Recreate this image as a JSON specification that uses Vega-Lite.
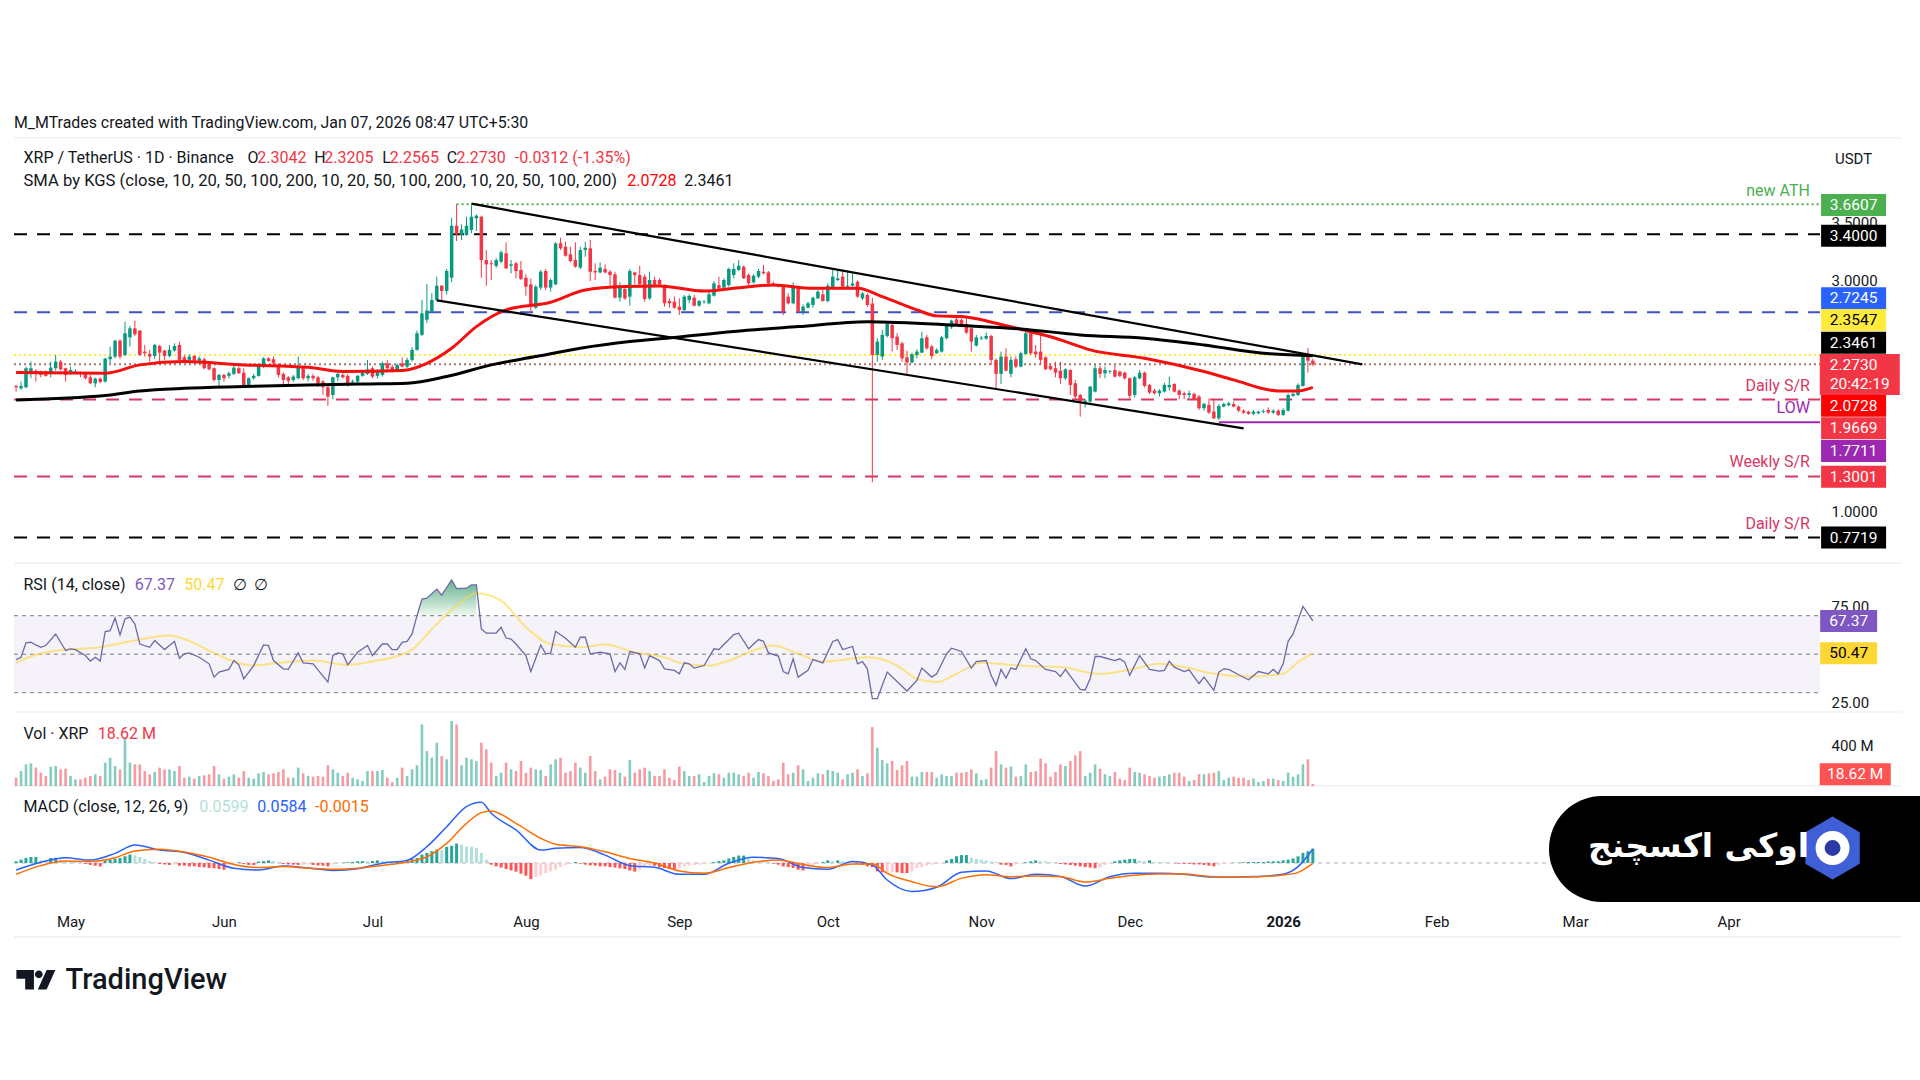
{"$schema":"https://vega.github.io/schema/vega-lite/v6.json","width":1920,"height":1080,"autosize":"none","padding":0,"background":"#ffffff","config":{"view":{"stroke":null}},
"title":{"text":"M_MTrades created with TradingView.com, Jan 07, 2026 08:47 UTC+5:30","anchor":"start","frame":"group","orient":"top","offset":-131,"dx":14,"fontSize":15.9,"font":"Roboto","fontWeight":"normal","color":"#131722"},
"datasets":{
"candles":[
{"t":"2025-04-20","o":2.085,"h":2.094,"l":2.036,"c":2.074,"k":"down","v":81,"m":0.007,"j":"gu"},
{"t":"2025-04-21","o":2.065,"h":2.123,"l":2.05,"c":2.085,"k":"up","v":146,"m":0.014,"j":"gu"},
{"t":"2025-04-22","o":2.074,"h":2.253,"l":2.065,"c":2.239,"k":"up","v":211,"m":0.021,"j":"gu"},
{"t":"2025-04-23","o":2.21,"h":2.296,"l":2.152,"c":2.239,"k":"up","v":221,"m":0.025,"j":"gu"},
{"t":"2025-04-24","o":2.218,"h":2.23,"l":2.123,"c":2.195,"k":"down","v":179,"m":0.025,"j":"gu"},
{"t":"2025-04-25","o":2.21,"h":2.218,"l":2.16,"c":2.181,"k":"down","v":130,"m":0.011,"j":"gd"},
{"t":"2025-04-26","o":2.21,"h":2.22,"l":2.165,"c":2.173,"k":"down","v":98,"m":0.008,"j":"gd"},
{"t":"2025-04-27","o":2.19,"h":2.296,"l":2.16,"c":2.244,"k":"up","v":188,"m":0.021,"j":"gu"},
{"t":"2025-04-28","o":2.239,"h":2.354,"l":2.218,"c":2.296,"k":"up","v":195,"m":0.022,"j":"gu"},
{"t":"2025-04-29","o":2.296,"h":2.311,"l":2.218,"c":2.23,"k":"down","v":162,"m":0.014,"j":"gd"},
{"t":"2025-04-30","o":2.239,"h":2.244,"l":2.123,"c":2.181,"k":"down","v":169,"m":0.008,"j":"gd"},
{"t":"2025-05-01","o":2.19,"h":2.253,"l":2.181,"c":2.224,"k":"up","v":98,"m":0.007,"j":"gd"},
{"t":"2025-05-02","o":2.2,"h":2.23,"l":2.19,"c":2.21,"k":"up","v":65,"m":0.004,"j":"gd"},
{"t":"2025-05-03","o":2.2,"h":2.21,"l":2.16,"c":2.19,"k":"down","v":65,"m":0.001,"j":"gd"},
{"t":"2025-05-04","o":2.19,"h":2.195,"l":2.14,"c":2.152,"k":"down","v":81,"m":-0.004,"j":"rd"},
{"t":"2025-05-05","o":2.16,"h":2.181,"l":2.1,"c":2.108,"k":"down","v":98,"m":-0.008,"j":"rd"},
{"t":"2025-05-06","o":2.108,"h":2.158,"l":2.074,"c":2.149,"k":"up","v":114,"m":-0.011,"j":"rd"},
{"t":"2025-05-07","o":2.149,"h":2.16,"l":2.108,"c":2.12,"k":"down","v":98,"m":-0.014,"j":"rd"},
{"t":"2025-05-08","o":2.123,"h":2.33,"l":2.115,"c":2.322,"k":"up","v":228,"m":0.011,"j":"gu"},
{"t":"2025-05-09","o":2.317,"h":2.427,"l":2.282,"c":2.34,"k":"up","v":276,"m":0.014,"j":"gu"},
{"t":"2025-05-10","o":2.34,"h":2.484,"l":2.325,"c":2.478,"k":"up","v":195,"m":0.017,"j":"gu"},
{"t":"2025-05-11","o":2.478,"h":2.49,"l":2.32,"c":2.34,"k":"down","v":162,"m":0.021,"j":"gu"},
{"t":"2025-05-12","o":2.354,"h":2.643,"l":2.345,"c":2.542,"k":"up","v":471,"m":0.028,"j":"gu"},
{"t":"2025-05-13","o":2.507,"h":2.606,"l":2.427,"c":2.585,"k":"up","v":228,"m":0.035,"j":"gu"},
{"t":"2025-05-14","o":2.585,"h":2.652,"l":2.519,"c":2.533,"k":"down","v":211,"m":0.031,"j":"gd"},
{"t":"2025-05-15","o":2.565,"h":2.571,"l":2.345,"c":2.354,"k":"down","v":211,"m":0.025,"j":"gd"},
{"t":"2025-05-16","o":2.383,"h":2.441,"l":2.34,"c":2.369,"k":"down","v":146,"m":0.017,"j":"gd"},
{"t":"2025-05-17","o":2.363,"h":2.398,"l":2.296,"c":2.34,"k":"down","v":114,"m":0.008,"j":"gd"},
{"t":"2025-05-18","o":2.345,"h":2.45,"l":2.317,"c":2.441,"k":"up","v":137,"m":0.004,"j":"gd"},
{"t":"2025-05-19","o":2.432,"h":2.441,"l":2.296,"c":2.374,"k":"down","v":179,"m":-0.004,"j":"rd"},
{"t":"2025-05-20","o":2.392,"h":2.398,"l":2.311,"c":2.345,"k":"down","v":162,"m":-0.006,"j":"rd"},
{"t":"2025-05-21","o":2.345,"h":2.441,"l":2.334,"c":2.398,"k":"up","v":162,"m":-0.008,"j":"rd"},
{"t":"2025-05-22","o":2.392,"h":2.455,"l":2.383,"c":2.432,"k":"up","v":146,"m":-0.006,"j":"ru"},
{"t":"2025-05-23","o":2.441,"h":2.47,"l":2.282,"c":2.311,"k":"down","v":195,"m":-0.011,"j":"rd"},
{"t":"2025-05-24","o":2.334,"h":2.354,"l":2.288,"c":2.296,"k":"down","v":81,"m":-0.011,"j":"rd"},
{"t":"2025-05-25","o":2.311,"h":2.36,"l":2.29,"c":2.34,"k":"up","v":91,"m":-0.014,"j":"rd"},
{"t":"2025-05-26","o":2.345,"h":2.354,"l":2.282,"c":2.305,"k":"down","v":72,"m":-0.014,"j":"rd"},
{"t":"2025-05-27","o":2.305,"h":2.34,"l":2.276,"c":2.325,"k":"up","v":98,"m":-0.017,"j":"rd"},
{"t":"2025-05-28","o":2.317,"h":2.33,"l":2.23,"c":2.239,"k":"down","v":104,"m":-0.018,"j":"rd"},
{"t":"2025-05-29","o":2.276,"h":2.29,"l":2.22,"c":2.23,"k":"down","v":114,"m":-0.021,"j":"rd"},
{"t":"2025-05-30","o":2.239,"h":2.247,"l":2.123,"c":2.137,"k":"down","v":195,"m":-0.022,"j":"rd"},
{"t":"2025-05-31","o":2.137,"h":2.19,"l":2.074,"c":2.181,"k":"up","v":114,"m":-0.025,"j":"rd"},
{"t":"2025-06-01","o":2.181,"h":2.19,"l":2.123,"c":2.152,"k":"down","v":72,"m":-0.028,"j":"rd"},
{"t":"2025-06-02","o":2.173,"h":2.21,"l":2.15,"c":2.195,"k":"up","v":91,"m":-0.007,"j":"ru"},
{"t":"2025-06-03","o":2.19,"h":2.267,"l":2.18,"c":2.244,"k":"up","v":114,"m":-0.004,"j":"ru"},
{"t":"2025-06-04","o":2.239,"h":2.253,"l":2.19,"c":2.195,"k":"down","v":81,"m":0.003,"j":"gu"},
{"t":"2025-06-05","o":2.2,"h":2.239,"l":2.074,"c":2.079,"k":"down","v":146,"m":-0.004,"j":"rd"},
{"t":"2025-06-06","o":2.085,"h":2.16,"l":2.074,"c":2.152,"k":"up","v":81,"m":-0.008,"j":"rd"},
{"t":"2025-06-07","o":2.152,"h":2.19,"l":2.14,"c":2.173,"k":"up","v":72,"m":-0.008,"j":"rd"},
{"t":"2025-06-08","o":2.172,"h":2.282,"l":2.166,"c":2.267,"k":"up","v":124,"m":0.006,"j":"gu"},
{"t":"2025-06-09","o":2.253,"h":2.334,"l":2.239,"c":2.325,"k":"up","v":137,"m":0.008,"j":"gu"},
{"t":"2025-06-10","o":2.325,"h":2.334,"l":2.296,"c":2.302,"k":"down","v":114,"m":0.011,"j":"gu"},
{"t":"2025-06-11","o":2.317,"h":2.34,"l":2.267,"c":2.282,"k":"down","v":124,"m":0.008,"j":"gd"},
{"t":"2025-06-12","o":2.253,"h":2.282,"l":2.16,"c":2.181,"k":"down","v":137,"m":0.004,"j":"gd"},
{"t":"2025-06-13","o":2.19,"h":2.2,"l":2.094,"c":2.137,"k":"down","v":163,"m":-0.004,"j":"rd"},
{"t":"2025-06-14","o":2.16,"h":2.17,"l":2.094,"c":2.13,"k":"down","v":81,"m":-0.006,"j":"rd"},
{"t":"2025-06-15","o":2.137,"h":2.18,"l":2.12,"c":2.166,"k":"up","v":81,"m":-0.007,"j":"rd"},
{"t":"2025-06-16","o":2.152,"h":2.34,"l":2.143,"c":2.253,"k":"up","v":179,"m":-0.008,"j":"rd"},
{"t":"2025-06-17","o":2.239,"h":2.253,"l":2.137,"c":2.152,"k":"down","v":124,"m":-0.007,"j":"ru"},
{"t":"2025-06-18","o":2.152,"h":2.19,"l":2.123,"c":2.173,"k":"up","v":98,"m":-0.006,"j":"ru"},
{"t":"2025-06-19","o":2.173,"h":2.19,"l":2.13,"c":2.152,"k":"down","v":91,"m":-0.008,"j":"rd"},
{"t":"2025-06-20","o":2.16,"h":2.173,"l":2.074,"c":2.108,"k":"down","v":98,"m":-0.01,"j":"rd"},
{"t":"2025-06-21","o":2.123,"h":2.137,"l":2.007,"c":2.074,"k":"down","v":91,"m":-0.011,"j":"rd"},
{"t":"2025-06-22","o":2.074,"h":2.094,"l":1.912,"c":1.993,"k":"down","v":202,"m":-0.014,"j":"rd"},
{"t":"2025-06-23","o":2.007,"h":2.166,"l":1.97,"c":2.16,"k":"up","v":163,"m":-0.006,"j":"ru"},
{"t":"2025-06-24","o":2.16,"h":2.21,"l":2.123,"c":2.19,"k":"up","v":130,"m":-0.003,"j":"ru"},
{"t":"2025-06-25","o":2.181,"h":2.195,"l":2.15,"c":2.16,"k":"down","v":98,"m":0.001,"j":"gu"},
{"t":"2025-06-26","o":2.173,"h":2.19,"l":2.079,"c":2.108,"k":"down","v":130,"m":0.003,"j":"gu"},
{"t":"2025-06-27","o":2.118,"h":2.14,"l":2.1,"c":2.125,"k":"up","v":81,"m":0.004,"j":"gu"},
{"t":"2025-06-28","o":2.123,"h":2.18,"l":2.11,"c":2.173,"k":"up","v":65,"m":0.007,"j":"gu"},
{"t":"2025-06-29","o":2.173,"h":2.21,"l":2.165,"c":2.2,"k":"up","v":49,"m":0.008,"j":"gu"},
{"t":"2025-06-30","o":2.19,"h":2.311,"l":2.181,"c":2.23,"k":"up","v":146,"m":0.007,"j":"gd"},
{"t":"2025-07-01","o":2.239,"h":2.253,"l":2.152,"c":2.166,"k":"down","v":146,"m":0.008,"j":"gu"},
{"t":"2025-07-02","o":2.173,"h":2.23,"l":2.15,"c":2.218,"k":"up","v":146,"m":0.011,"j":"gu"},
{"t":"2025-07-03","o":2.181,"h":2.296,"l":2.166,"c":2.282,"k":"up","v":156,"m":0.008,"j":"gd"},
{"t":"2025-07-04","o":2.282,"h":2.31,"l":2.22,"c":2.24,"k":"down","v":81,"m":0.008,"j":"gd"},
{"t":"2025-07-05","o":2.25,"h":2.27,"l":2.2,"c":2.218,"k":"down","v":39,"m":0.006,"j":"gd"},
{"t":"2025-07-06","o":2.218,"h":2.28,"l":2.21,"c":2.267,"k":"up","v":81,"m":0.007,"j":"gu"},
{"t":"2025-07-07","o":2.282,"h":2.334,"l":2.247,"c":2.253,"k":"down","v":179,"m":0.008,"j":"gu"},
{"t":"2025-07-08","o":2.253,"h":2.33,"l":2.24,"c":2.311,"k":"up","v":98,"m":0.014,"j":"gu"},
{"t":"2025-07-09","o":2.311,"h":2.421,"l":2.296,"c":2.398,"k":"up","v":163,"m":0.017,"j":"gu"},
{"t":"2025-07-10","o":2.398,"h":2.565,"l":2.392,"c":2.542,"k":"up","v":202,"m":0.021,"j":"gu"},
{"t":"2025-07-11","o":2.528,"h":2.831,"l":2.519,"c":2.715,"k":"up","v":601,"m":0.035,"j":"gu"},
{"t":"2025-07-12","o":2.66,"h":2.97,"l":2.63,"c":2.74,"k":"up","v":341,"m":0.042,"j":"gu"},
{"t":"2025-07-13","o":2.73,"h":2.89,"l":2.72,"c":2.83,"k":"up","v":276,"m":0.049,"j":"gu"},
{"t":"2025-07-14","o":2.83,"h":3.033,"l":2.822,"c":2.955,"k":"up","v":422,"m":0.056,"j":"gu"},
{"t":"2025-07-15","o":2.955,"h":2.96,"l":2.822,"c":2.909,"k":"down","v":292,"m":0.053,"j":"gd"},
{"t":"2025-07-16","o":2.909,"h":3.1,"l":2.88,"c":3.082,"k":"up","v":260,"m":0.067,"j":"gu"},
{"t":"2025-07-17","o":3.024,"h":3.544,"l":2.984,"c":3.475,"k":"up","v":634,"m":0.072,"j":"gu"},
{"t":"2025-07-18","o":3.475,"h":3.6607,"l":3.342,"c":3.4,"k":"down","v":601,"m":0.081,"j":"gu"},
{"t":"2025-07-19","o":3.394,"h":3.487,"l":3.351,"c":3.443,"k":"up","v":202,"m":0.076,"j":"gd"},
{"t":"2025-07-20","o":3.394,"h":3.553,"l":3.388,"c":3.475,"k":"up","v":276,"m":0.069,"j":"gd"},
{"t":"2025-07-21","o":3.438,"h":3.654,"l":3.409,"c":3.553,"k":"up","v":260,"m":0.067,"j":"gd"},
{"t":"2025-07-22","o":3.539,"h":3.573,"l":3.429,"c":3.562,"k":"up","v":244,"m":0.063,"j":"gd"},
{"t":"2025-07-23","o":3.553,"h":3.562,"l":3.024,"c":3.177,"k":"down","v":422,"m":0.042,"j":"gd"},
{"t":"2025-07-24","o":3.177,"h":3.264,"l":2.955,"c":3.14,"k":"down","v":358,"m":0.014,"j":"gd"},
{"t":"2025-07-25","o":3.149,"h":3.177,"l":3.004,"c":3.14,"k":"down","v":228,"m":-0.007,"j":"rd"},
{"t":"2025-07-26","o":3.125,"h":3.192,"l":3.111,"c":3.177,"k":"up","v":98,"m":-0.014,"j":"rd"},
{"t":"2025-07-27","o":3.163,"h":3.26,"l":3.15,"c":3.244,"k":"up","v":130,"m":-0.019,"j":"rd"},
{"t":"2025-07-28","o":3.235,"h":3.331,"l":3.1,"c":3.105,"k":"down","v":228,"m":-0.025,"j":"rd"},
{"t":"2025-07-29","o":3.128,"h":3.177,"l":3.062,"c":3.14,"k":"up","v":163,"m":-0.031,"j":"rd"},
{"t":"2025-07-30","o":3.149,"h":3.163,"l":3.018,"c":3.082,"k":"down","v":146,"m":-0.036,"j":"rd"},
{"t":"2025-07-31","o":3.091,"h":3.169,"l":3.004,"c":3.013,"k":"down","v":244,"m":-0.044,"j":"rd"},
{"t":"2025-08-01","o":3.024,"h":3.053,"l":2.868,"c":2.946,"k":"down","v":130,"m":-0.053,"j":"rd"},
{"t":"2025-08-02","o":2.966,"h":3.018,"l":2.724,"c":2.773,"k":"down","v":179,"m":-0.067,"j":"rd"},
{"t":"2025-08-03","o":2.764,"h":2.96,"l":2.753,"c":2.946,"k":"up","v":163,"m":-0.058,"j":"ru"},
{"t":"2025-08-04","o":2.938,"h":3.091,"l":2.917,"c":3.076,"k":"up","v":156,"m":-0.053,"j":"ru"},
{"t":"2025-08-05","o":3.082,"h":3.1,"l":2.917,"c":2.938,"k":"down","v":98,"m":-0.042,"j":"ru"},
{"t":"2025-08-06","o":2.938,"h":3.018,"l":2.903,"c":3.004,"k":"up","v":211,"m":-0.035,"j":"ru"},
{"t":"2025-08-07","o":2.966,"h":3.331,"l":2.96,"c":3.322,"k":"up","v":260,"m":-0.028,"j":"ru"},
{"t":"2025-08-08","o":3.322,"h":3.371,"l":3.264,"c":3.279,"k":"down","v":276,"m":-0.017,"j":"ru"},
{"t":"2025-08-09","o":3.293,"h":3.336,"l":3.206,"c":3.215,"k":"down","v":130,"m":-0.008,"j":"ru"},
{"t":"2025-08-10","o":3.227,"h":3.293,"l":3.157,"c":3.169,"k":"down","v":146,"m":-0.004,"j":"ru"},
{"t":"2025-08-11","o":3.177,"h":3.331,"l":3.111,"c":3.12,"k":"down","v":228,"m":0.004,"j":"gu"},
{"t":"2025-08-12","o":3.111,"h":3.293,"l":3.1,"c":3.264,"k":"up","v":179,"m":-0.003,"j":"rd"},
{"t":"2025-08-13","o":3.264,"h":3.336,"l":3.206,"c":3.284,"k":"up","v":130,"m":-0.007,"j":"rd"},
{"t":"2025-08-14","o":3.279,"h":3.351,"l":2.995,"c":3.076,"k":"down","v":293,"m":-0.01,"j":"rd"},
{"t":"2025-08-15","o":3.082,"h":3.149,"l":3.004,"c":3.07,"k":"down","v":146,"m":-0.011,"j":"rd"},
{"t":"2025-08-16","o":3.07,"h":3.157,"l":3.062,"c":3.111,"k":"up","v":65,"m":-0.014,"j":"rd"},
{"t":"2025-08-17","o":3.1,"h":3.14,"l":3.062,"c":3.07,"k":"down","v":91,"m":-0.014,"j":"rd"},
{"t":"2025-08-18","o":3.076,"h":3.091,"l":2.955,"c":3.047,"k":"down","v":163,"m":-0.017,"j":"rd"},
{"t":"2025-08-19","o":3.053,"h":3.076,"l":2.845,"c":2.851,"k":"down","v":156,"m":-0.019,"j":"rd"},
{"t":"2025-08-20","o":2.851,"h":2.984,"l":2.816,"c":2.955,"k":"up","v":130,"m":-0.022,"j":"rd"},
{"t":"2025-08-21","o":2.926,"h":2.946,"l":2.831,"c":2.845,"k":"down","v":91,"m":-0.025,"j":"rd"},
{"t":"2025-08-22","o":2.86,"h":3.1,"l":2.782,"c":3.082,"k":"up","v":254,"m":-0.031,"j":"rd"},
{"t":"2025-08-23","o":3.07,"h":3.076,"l":2.966,"c":3.047,"k":"down","v":130,"m":-0.036,"j":"rd"},
{"t":"2025-08-24","o":3.047,"h":3.128,"l":2.96,"c":2.966,"k":"down","v":163,"m":-0.028,"j":"ru"},
{"t":"2025-08-25","o":3.033,"h":3.053,"l":2.816,"c":2.839,"k":"down","v":179,"m":-0.014,"j":"ru"},
{"t":"2025-08-26","o":2.845,"h":3.076,"l":2.831,"c":3.004,"k":"up","v":146,"m":-0.011,"j":"ru"},
{"t":"2025-08-27","o":3.004,"h":3.033,"l":2.955,"c":2.96,"k":"down","v":98,"m":-0.011,"j":"rd"},
{"t":"2025-08-28","o":3.004,"h":3.018,"l":2.96,"c":2.966,"k":"down","v":98,"m":-0.017,"j":"rd"},
{"t":"2025-08-29","o":2.955,"h":2.966,"l":2.773,"c":2.802,"k":"down","v":163,"m":-0.021,"j":"rd"},
{"t":"2025-08-30","o":2.822,"h":2.845,"l":2.764,"c":2.802,"k":"down","v":81,"m":-0.025,"j":"rd"},
{"t":"2025-08-31","o":2.816,"h":2.86,"l":2.753,"c":2.764,"k":"down","v":58,"m":-0.025,"j":"rd"},
{"t":"2025-09-01","o":2.773,"h":2.845,"l":2.701,"c":2.744,"k":"down","v":189,"m":-0.021,"j":"ru"},
{"t":"2025-09-02","o":2.744,"h":2.874,"l":2.735,"c":2.86,"k":"up","v":146,"m":-0.014,"j":"ru"},
{"t":"2025-09-03","o":2.83,"h":2.88,"l":2.802,"c":2.866,"k":"up","v":98,"m":-0.011,"j":"ru"},
{"t":"2025-09-04","o":2.851,"h":2.874,"l":2.773,"c":2.782,"k":"down","v":98,"m":-0.008,"j":"ru"},
{"t":"2025-09-05","o":2.782,"h":2.831,"l":2.773,"c":2.822,"k":"up","v":114,"m":-0.007,"j":"ru"},
{"t":"2025-09-06","o":2.81,"h":2.83,"l":2.8,"c":2.816,"k":"up","v":39,"m":-0.004,"j":"ru"},
{"t":"2025-09-07","o":2.802,"h":2.917,"l":2.793,"c":2.88,"k":"up","v":98,"m":-0.003,"j":"ru"},
{"t":"2025-09-08","o":2.868,"h":2.995,"l":2.86,"c":2.975,"k":"up","v":124,"m":0.004,"j":"gu"},
{"t":"2025-09-09","o":2.96,"h":3.033,"l":2.926,"c":2.93,"k":"down","v":114,"m":0.008,"j":"gu"},
{"t":"2025-09-10","o":2.938,"h":3.018,"l":2.932,"c":3.004,"k":"up","v":81,"m":0.011,"j":"gu"},
{"t":"2025-09-11","o":2.96,"h":3.111,"l":2.946,"c":3.1,"k":"up","v":130,"m":0.019,"j":"gu"},
{"t":"2025-09-12","o":3.047,"h":3.149,"l":3.018,"c":3.1,"k":"up","v":130,"m":0.025,"j":"gu"},
{"t":"2025-09-13","o":3.091,"h":3.177,"l":3.082,"c":3.128,"k":"up","v":114,"m":0.031,"j":"gu"},
{"t":"2025-09-14","o":3.12,"h":3.128,"l":3.013,"c":3.018,"k":"down","v":98,"m":0.031,"j":"gu"},
{"t":"2025-09-15","o":3.047,"h":3.062,"l":2.955,"c":2.975,"k":"down","v":130,"m":0.017,"j":"gd"},
{"t":"2025-09-16","o":2.984,"h":3.053,"l":2.975,"c":3.041,"k":"up","v":81,"m":0.011,"j":"gd"},
{"t":"2025-09-17","o":3.033,"h":3.1,"l":3.018,"c":3.082,"k":"up","v":137,"m":0.007,"j":"gd"},
{"t":"2025-09-18","o":3.076,"h":3.134,"l":3.053,"c":3.062,"k":"down","v":124,"m":0.004,"j":"gd"},
{"t":"2025-09-19","o":3.07,"h":3.082,"l":2.966,"c":2.975,"k":"down","v":98,"m":0.001,"j":"gd"},
{"t":"2025-09-20","o":2.975,"h":2.99,"l":2.95,"c":2.96,"k":"down","v":49,"m":-0.003,"j":"rd"},
{"t":"2025-09-21","o":2.96,"h":2.97,"l":2.94,"c":2.95,"k":"down","v":65,"m":-0.007,"j":"rd"},
{"t":"2025-09-22","o":2.955,"h":2.966,"l":2.7,"c":2.729,"k":"down","v":228,"m":-0.014,"j":"rd"},
{"t":"2025-09-23","o":2.86,"h":2.888,"l":2.793,"c":2.802,"k":"down","v":114,"m":-0.017,"j":"rd"},
{"t":"2025-09-24","o":2.802,"h":2.984,"l":2.793,"c":2.946,"k":"up","v":130,"m":-0.021,"j":"rd"},
{"t":"2025-09-25","o":2.932,"h":2.946,"l":2.724,"c":2.729,"k":"down","v":202,"m":-0.028,"j":"rd"},
{"t":"2025-09-26","o":2.729,"h":2.793,"l":2.7,"c":2.773,"k":"up","v":163,"m":-0.031,"j":"rd"},
{"t":"2025-09-27","o":2.764,"h":2.816,"l":2.759,"c":2.802,"k":"up","v":49,"m":-0.019,"j":"ru"},
{"t":"2025-09-28","o":2.787,"h":2.86,"l":2.764,"c":2.851,"k":"up","v":81,"m":-0.011,"j":"ru"},
{"t":"2025-09-29","o":2.845,"h":2.917,"l":2.839,"c":2.903,"k":"up","v":124,"m":-0.004,"j":"ru"},
{"t":"2025-09-30","o":2.88,"h":2.932,"l":2.816,"c":2.822,"k":"down","v":114,"m":0.004,"j":"gu"},
{"t":"2025-10-01","o":2.822,"h":2.975,"l":2.81,"c":2.955,"k":"up","v":156,"m":0.011,"j":"gu"},
{"t":"2025-10-02","o":2.932,"h":3.091,"l":2.926,"c":3.033,"k":"up","v":146,"m":0.008,"j":"gd"},
{"t":"2025-10-03","o":3.004,"h":3.091,"l":2.995,"c":3.018,"k":"up","v":130,"m":0.011,"j":"gu"},
{"t":"2025-10-04","o":3.033,"h":3.076,"l":2.938,"c":2.946,"k":"down","v":65,"m":0.007,"j":"gd"},
{"t":"2025-10-05","o":2.946,"h":3.076,"l":2.94,"c":2.955,"k":"up","v":114,"m":0.004,"j":"gd"},
{"t":"2025-10-06","o":2.955,"h":3.062,"l":2.946,"c":2.975,"k":"up","v":130,"m":0.003,"j":"gd"},
{"t":"2025-10-07","o":2.99,"h":3.0,"l":2.85,"c":2.86,"k":"down","v":163,"m":-0.003,"j":"rd"},
{"t":"2025-10-08","o":2.845,"h":2.9,"l":2.83,"c":2.888,"k":"up","v":98,"m":-0.008,"j":"rd"},
{"t":"2025-10-09","o":2.874,"h":2.89,"l":2.77,"c":2.787,"k":"down","v":124,"m":-0.014,"j":"rd"},
{"t":"2025-10-10","o":2.8,"h":2.85,"l":1.25,"c":2.354,"k":"down","v":575,"m":-0.017,"j":"rd"},
{"t":"2025-10-11","o":2.354,"h":2.499,"l":2.296,"c":2.47,"k":"up","v":374,"m":-0.035,"j":"rd"},
{"t":"2025-10-12","o":2.34,"h":2.571,"l":2.311,"c":2.528,"k":"up","v":254,"m":-0.039,"j":"rd"},
{"t":"2025-10-13","o":2.519,"h":2.634,"l":2.507,"c":2.623,"k":"up","v":221,"m":-0.039,"j":"ru"},
{"t":"2025-10-14","o":2.614,"h":2.629,"l":2.383,"c":2.499,"k":"down","v":244,"m":-0.039,"j":"ru"},
{"t":"2025-10-15","o":2.513,"h":2.542,"l":2.398,"c":2.441,"k":"down","v":156,"m":-0.039,"j":"rd"},
{"t":"2025-10-16","o":2.455,"h":2.47,"l":2.296,"c":2.325,"k":"down","v":202,"m":-0.042,"j":"rd"},
{"t":"2025-10-17","o":2.334,"h":2.392,"l":2.19,"c":2.288,"k":"down","v":244,"m":-0.042,"j":"rd"},
{"t":"2025-10-18","o":2.288,"h":2.374,"l":2.282,"c":2.36,"k":"up","v":91,"m":-0.035,"j":"ru"},
{"t":"2025-10-19","o":2.354,"h":2.403,"l":2.325,"c":2.383,"k":"up","v":91,"m":-0.021,"j":"ru"},
{"t":"2025-10-20","o":2.374,"h":2.556,"l":2.369,"c":2.499,"k":"up","v":137,"m":-0.017,"j":"ru"},
{"t":"2025-10-21","o":2.507,"h":2.528,"l":2.398,"c":2.412,"k":"down","v":137,"m":-0.011,"j":"ru"},
{"t":"2025-10-22","o":2.427,"h":2.441,"l":2.317,"c":2.345,"k":"down","v":137,"m":-0.007,"j":"ru"},
{"t":"2025-10-23","o":2.369,"h":2.412,"l":2.363,"c":2.398,"k":"up","v":81,"m":-0.004,"j":"ru"},
{"t":"2025-10-24","o":2.383,"h":2.519,"l":2.374,"c":2.507,"k":"up","v":114,"m":-0.003,"j":"ru"},
{"t":"2025-10-25","o":2.499,"h":2.623,"l":2.49,"c":2.614,"k":"up","v":98,"m":0.011,"j":"gu"},
{"t":"2025-10-26","o":2.594,"h":2.66,"l":2.58,"c":2.652,"k":"up","v":98,"m":0.017,"j":"gu"},
{"t":"2025-10-27","o":2.663,"h":2.701,"l":2.606,"c":2.623,"k":"down","v":130,"m":0.028,"j":"gu"},
{"t":"2025-10-28","o":2.658,"h":2.672,"l":2.594,"c":2.623,"k":"down","v":130,"m":0.033,"j":"gu"},
{"t":"2025-10-29","o":2.623,"h":2.672,"l":2.536,"c":2.548,"k":"down","v":137,"m":0.033,"j":"gu"},
{"t":"2025-10-30","o":2.585,"h":2.594,"l":2.383,"c":2.47,"k":"down","v":163,"m":0.022,"j":"gd"},
{"t":"2025-10-31","o":2.435,"h":2.528,"l":2.427,"c":2.507,"k":"up","v":124,"m":0.017,"j":"gd"},
{"t":"2025-11-01","o":2.496,"h":2.519,"l":2.484,"c":2.504,"k":"up","v":59,"m":0.014,"j":"gd"},
{"t":"2025-11-02","o":2.496,"h":2.548,"l":2.484,"c":2.519,"k":"up","v":65,"m":0.011,"j":"gd"},
{"t":"2025-11-03","o":2.519,"h":2.528,"l":2.267,"c":2.311,"k":"down","v":179,"m":0.007,"j":"gd"},
{"t":"2025-11-04","o":2.311,"h":2.325,"l":2.065,"c":2.19,"k":"down","v":341,"m":0.004,"j":"gd"},
{"t":"2025-11-05","o":2.19,"h":2.383,"l":2.103,"c":2.34,"k":"up","v":211,"m":-0.007,"j":"rd"},
{"t":"2025-11-06","o":2.34,"h":2.412,"l":2.21,"c":2.218,"k":"down","v":179,"m":-0.008,"j":"rd"},
{"t":"2025-11-07","o":2.19,"h":2.34,"l":2.16,"c":2.311,"k":"up","v":189,"m":-0.014,"j":"rd"},
{"t":"2025-11-08","o":2.317,"h":2.34,"l":2.239,"c":2.253,"k":"down","v":91,"m":-0.006,"j":"ru"},
{"t":"2025-11-09","o":2.253,"h":2.383,"l":2.247,"c":2.369,"k":"up","v":98,"m":-0.003,"j":"ru"},
{"t":"2025-11-10","o":2.363,"h":2.556,"l":2.354,"c":2.542,"k":"up","v":211,"m":0.003,"j":"gu"},
{"t":"2025-11-11","o":2.542,"h":2.571,"l":2.354,"c":2.369,"k":"down","v":137,"m":0.007,"j":"gu"},
{"t":"2025-11-12","o":2.383,"h":2.44,"l":2.33,"c":2.36,"k":"down","v":146,"m":0.011,"j":"gu"},
{"t":"2025-11-13","o":2.383,"h":2.528,"l":2.267,"c":2.311,"k":"down","v":267,"m":0.008,"j":"gd"},
{"t":"2025-11-14","o":2.334,"h":2.34,"l":2.224,"c":2.23,"k":"down","v":221,"m":0.007,"j":"gd"},
{"t":"2025-11-15","o":2.258,"h":2.27,"l":2.22,"c":2.23,"k":"down","v":91,"m":0.003,"j":"gd"},
{"t":"2025-11-16","o":2.239,"h":2.296,"l":2.16,"c":2.201,"k":"down","v":137,"m":0.001,"j":"gd"},
{"t":"2025-11-17","o":2.218,"h":2.296,"l":2.103,"c":2.152,"k":"down","v":211,"m":-0.004,"j":"rd"},
{"t":"2025-11-18","o":2.152,"h":2.239,"l":2.137,"c":2.23,"k":"up","v":195,"m":-0.006,"j":"rd"},
{"t":"2025-11-19","o":2.224,"h":2.23,"l":2.007,"c":2.094,"k":"down","v":244,"m":-0.008,"j":"rd"},
{"t":"2025-11-20","o":2.108,"h":2.137,"l":1.97,"c":1.993,"k":"down","v":299,"m":-0.011,"j":"rd"},
{"t":"2025-11-21","o":2.007,"h":2.016,"l":1.819,"c":1.95,"k":"down","v":341,"m":-0.014,"j":"rd"},
{"t":"2025-11-22","o":1.935,"h":1.97,"l":1.9,"c":1.958,"k":"up","v":98,"m":-0.017,"j":"rd"},
{"t":"2025-11-23","o":1.95,"h":2.085,"l":1.941,"c":2.079,"k":"up","v":130,"m":-0.019,"j":"rd"},
{"t":"2025-11-24","o":2.036,"h":2.267,"l":2.028,"c":2.239,"k":"up","v":211,"m":-0.022,"j":"rd"},
{"t":"2025-11-25","o":2.239,"h":2.259,"l":2.152,"c":2.19,"k":"down","v":169,"m":-0.019,"j":"ru"},
{"t":"2025-11-26","o":2.195,"h":2.253,"l":2.152,"c":2.224,"k":"up","v":114,"m":-0.008,"j":"ru"},
{"t":"2025-11-27","o":2.21,"h":2.224,"l":2.19,"c":2.216,"k":"up","v":98,"m":-0.004,"j":"ru"},
{"t":"2025-11-28","o":2.224,"h":2.267,"l":2.16,"c":2.166,"k":"down","v":137,"m":0.007,"j":"gu"},
{"t":"2025-11-29","o":2.21,"h":2.218,"l":2.16,"c":2.173,"k":"down","v":72,"m":0.011,"j":"gu"},
{"t":"2025-11-30","o":2.2,"h":2.21,"l":2.14,"c":2.152,"k":"down","v":59,"m":0.014,"j":"gu"},
{"t":"2025-12-01","o":2.152,"h":2.16,"l":1.978,"c":2.0,"k":"down","v":179,"m":0.017,"j":"gu"},
{"t":"2025-12-02","o":2.007,"h":2.173,"l":1.987,"c":2.16,"k":"up","v":137,"m":0.017,"j":"gu"},
{"t":"2025-12-03","o":2.152,"h":2.224,"l":2.143,"c":2.2,"k":"up","v":130,"m":0.011,"j":"gd"},
{"t":"2025-12-04","o":2.2,"h":2.21,"l":2.074,"c":2.085,"k":"down","v":114,"m":0.008,"j":"gd"},
{"t":"2025-12-05","o":2.094,"h":2.103,"l":2.016,"c":2.028,"k":"down","v":98,"m":0.011,"j":"gu"},
{"t":"2025-12-06","o":2.045,"h":2.06,"l":2.01,"c":2.022,"k":"down","v":81,"m":0.004,"j":"gd"},
{"t":"2025-12-07","o":2.022,"h":2.056,"l":1.993,"c":2.045,"k":"up","v":91,"m":0.003,"j":"gd"},
{"t":"2025-12-08","o":2.036,"h":2.114,"l":2.028,"c":2.094,"k":"up","v":98,"m":0.003,"j":"gd"},
{"t":"2025-12-09","o":2.074,"h":2.166,"l":2.045,"c":2.094,"k":"up","v":114,"m":0.001,"j":"gd"},
{"t":"2025-12-10","o":2.103,"h":2.108,"l":2.028,"c":2.036,"k":"down","v":130,"m":-0.001,"j":"rd"},
{"t":"2025-12-11","o":2.045,"h":2.056,"l":1.97,"c":2.007,"k":"down","v":130,"m":-0.003,"j":"rd"},
{"t":"2025-12-12","o":2.022,"h":2.036,"l":1.97,"c":2.007,"k":"down","v":91,"m":-0.003,"j":"rd"},
{"t":"2025-12-13","o":2.007,"h":2.045,"l":1.978,"c":2.022,"k":"up","v":49,"m":-0.004,"j":"rd"},
{"t":"2025-12-14","o":2.016,"h":2.028,"l":1.964,"c":1.97,"k":"down","v":59,"m":-0.006,"j":"rd"},
{"t":"2025-12-15","o":1.993,"h":2.007,"l":1.877,"c":1.892,"k":"down","v":114,"m":-0.006,"j":"rd"},
{"t":"2025-12-16","o":1.892,"h":1.94,"l":1.87,"c":1.93,"k":"up","v":114,"m":-0.008,"j":"rd"},
{"t":"2025-12-17","o":1.921,"h":1.978,"l":1.843,"c":1.854,"k":"down","v":124,"m":-0.011,"j":"rd"},
{"t":"2025-12-18","o":1.863,"h":1.964,"l":1.796,"c":1.805,"k":"down","v":130,"m":-0.014,"j":"rd"},
{"t":"2025-12-19","o":1.805,"h":1.929,"l":1.79,"c":1.912,"k":"up","v":146,"m":-0.008,"j":"ru"},
{"t":"2025-12-20","o":1.906,"h":1.94,"l":1.9,"c":1.929,"k":"up","v":59,"m":-0.004,"j":"ru"},
{"t":"2025-12-21","o":1.918,"h":1.95,"l":1.91,"c":1.935,"k":"up","v":81,"m":-0.001,"j":"ru"},
{"t":"2025-12-22","o":1.929,"h":1.95,"l":1.9,"c":1.906,"k":"down","v":91,"m":0.001,"j":"gu"},
{"t":"2025-12-23","o":1.906,"h":1.915,"l":1.86,"c":1.871,"k":"down","v":81,"m":0.001,"j":"gu"},
{"t":"2025-12-24","o":1.871,"h":1.883,"l":1.843,"c":1.854,"k":"down","v":81,"m":0.003,"j":"gu"},
{"t":"2025-12-25","o":1.863,"h":1.87,"l":1.835,"c":1.843,"k":"down","v":59,"m":0.004,"j":"gu"},
{"t":"2025-12-26","o":1.843,"h":1.877,"l":1.831,"c":1.863,"k":"up","v":72,"m":0.004,"j":"gu"},
{"t":"2025-12-27","o":1.848,"h":1.87,"l":1.84,"c":1.863,"k":"up","v":39,"m":0.004,"j":"gu"},
{"t":"2025-12-28","o":1.86,"h":1.883,"l":1.848,"c":1.868,"k":"up","v":49,"m":0.004,"j":"gu"},
{"t":"2025-12-29","o":1.877,"h":1.9,"l":1.843,"c":1.854,"k":"down","v":72,"m":0.006,"j":"gu"},
{"t":"2025-12-30","o":1.854,"h":1.883,"l":1.843,"c":1.871,"k":"up","v":72,"m":0.007,"j":"gu"},
{"t":"2025-12-31","o":1.871,"h":1.883,"l":1.825,"c":1.834,"k":"down","v":59,"m":0.007,"j":"gu"},
{"t":"2026-01-01","o":1.834,"h":1.892,"l":1.825,"c":1.877,"k":"up","v":49,"m":0.011,"j":"gu"},
{"t":"2026-01-02","o":1.871,"h":2.022,"l":1.863,"c":2.007,"k":"up","v":130,"m":0.014,"j":"gu"},
{"t":"2026-01-03","o":2.0,"h":2.03,"l":1.99,"c":2.016,"k":"up","v":91,"m":0.019,"j":"gu"},
{"t":"2026-01-04","o":2.007,"h":2.108,"l":1.998,"c":2.094,"k":"up","v":114,"m":0.028,"j":"gu"},
{"t":"2026-01-05","o":2.085,"h":2.369,"l":2.079,"c":2.354,"k":"up","v":211,"m":0.042,"j":"gu"},
{"t":"2026-01-06","o":2.354,"h":2.415,"l":2.2,"c":2.3042,"k":"down","v":260,"m":0.049,"j":"gu"},
{"t":"2026-01-07","o":2.3042,"h":2.3205,"l":2.2565,"c":2.273,"k":"down","v":19,"m":0.0599,"j":"gu"}
],
"sma":[
{"t":"2025-04-20","p":2.201,"k":"sma50"},{"t":"2025-05-08","p":2.195,"k":"sma50"},{"t":"2025-05-15","p":2.268,"k":"sma50"},{"t":"2025-05-24","p":2.297,"k":"sma50"},{"t":"2025-06-05","p":2.268,"k":"sma50"},{"t":"2025-06-18","p":2.247,"k":"sma50"},{"t":"2025-06-25","p":2.21,"k":"sma50"},{"t":"2025-07-07","p":2.219,"k":"sma50"},{"t":"2025-07-12","p":2.282,"k":"sma50"},{"t":"2025-07-17","p":2.412,"k":"sma50"},{"t":"2025-07-22","p":2.6,"k":"sma50"},{"t":"2025-07-28","p":2.745,"k":"sma50"},{"t":"2025-08-06","p":2.811,"k":"sma50"},{"t":"2025-08-13","p":2.918,"k":"sma50"},{"t":"2025-08-21","p":2.947,"k":"sma50"},{"t":"2025-08-28","p":2.953,"k":"sma50"},{"t":"2025-09-06","p":2.909,"k":"sma50"},{"t":"2025-09-12","p":2.932,"k":"sma50"},{"t":"2025-09-20","p":2.961,"k":"sma50"},{"t":"2025-09-28","p":2.932,"k":"sma50"},{"t":"2025-10-07","p":2.932,"k":"sma50"},{"t":"2025-10-12","p":2.86,"k":"sma50"},{"t":"2025-10-19","p":2.745,"k":"sma50"},{"t":"2025-10-23","p":2.693,"k":"sma50"},{"t":"2025-10-28","p":2.687,"k":"sma50"},{"t":"2025-11-04","p":2.629,"k":"sma50"},{"t":"2025-11-10","p":2.565,"k":"sma50"},{"t":"2025-11-16","p":2.499,"k":"sma50"},{"t":"2025-11-23","p":2.398,"k":"sma50"},{"t":"2025-12-04","p":2.325,"k":"sma50"},{"t":"2025-12-16","p":2.21,"k":"sma50"},{"t":"2025-12-22","p":2.138,"k":"sma50"},{"t":"2025-12-31","p":2.042,"k":"sma50"},{"t":"2026-01-04","p":2.042,"k":"sma50"},{"t":"2026-01-07","p":2.0728,"k":"sma50"},
{"t":"2025-04-20","p":1.964,"k":"blk"},{"t":"2025-05-08","p":2.002,"k":"blk"},{"t":"2025-05-15","p":2.042,"k":"blk"},{"t":"2025-05-24","p":2.065,"k":"blk"},{"t":"2025-06-05","p":2.08,"k":"blk"},{"t":"2025-06-18","p":2.094,"k":"blk"},{"t":"2025-06-30","p":2.103,"k":"blk"},{"t":"2025-07-08","p":2.109,"k":"blk"},{"t":"2025-07-16","p":2.167,"k":"blk"},{"t":"2025-07-25","p":2.268,"k":"blk"},{"t":"2025-08-03","p":2.34,"k":"blk"},{"t":"2025-08-12","p":2.412,"k":"blk"},{"t":"2025-08-22","p":2.47,"k":"blk"},{"t":"2025-08-31","p":2.505,"k":"blk"},{"t":"2025-09-12","p":2.557,"k":"blk"},{"t":"2025-09-25","p":2.6,"k":"blk"},{"t":"2025-10-09","p":2.643,"k":"blk"},{"t":"2025-10-28","p":2.609,"k":"blk"},{"t":"2025-11-09","p":2.58,"k":"blk"},{"t":"2025-11-21","p":2.528,"k":"blk"},{"t":"2025-12-04","p":2.499,"k":"blk"},{"t":"2025-12-16","p":2.441,"k":"blk"},{"t":"2025-12-28","p":2.369,"k":"blk"},{"t":"2026-01-07","p":2.3461,"k":"blk"}
],
"rsi":[
{"t":"2025-04-20","r":47.2,"k":"rsi"},{"t":"2025-04-21","r":48.4,"k":"rsi"},{"t":"2025-04-22","r":55.9,"k":"rsi"},{"t":"2025-04-23","r":56.2,"k":"rsi"},{"t":"2025-04-24","r":54.8,"k":"rsi"},{"t":"2025-04-25","r":53.6,"k":"rsi"},{"t":"2025-04-26","r":54.5,"k":"rsi"},{"t":"2025-04-28","r":60.5,"k":"rsi"},{"t":"2025-04-30","r":51.9,"k":"rsi"},{"t":"2025-05-01","r":52.8,"k":"rsi"},{"t":"2025-05-02","r":52.4,"k":"rsi"},{"t":"2025-05-04","r":49.3,"k":"rsi"},{"t":"2025-05-05","r":46.4,"k":"rsi"},{"t":"2025-05-06","r":48.4,"k":"rsi"},{"t":"2025-05-07","r":46.4,"k":"rsi"},{"t":"2025-05-08","r":61.7,"k":"rsi"},{"t":"2025-05-09","r":62.2,"k":"rsi"},{"t":"2025-05-10","r":68.8,"k":"rsi"},{"t":"2025-05-11","r":60,"k":"rsi"},{"t":"2025-05-12","r":68.3,"k":"rsi"},{"t":"2025-05-13","r":69.3,"k":"rsi"},{"t":"2025-05-14","r":65.7,"k":"rsi"},{"t":"2025-05-15","r":55.3,"k":"rsi"},{"t":"2025-05-17","r":53.6,"k":"rsi"},{"t":"2025-05-18","r":57.1,"k":"rsi"},{"t":"2025-05-20","r":52.4,"k":"rsi"},{"t":"2025-05-22","r":56.7,"k":"rsi"},{"t":"2025-05-23","r":47.9,"k":"rsi"},{"t":"2025-05-24","r":50.2,"k":"rsi"},{"t":"2025-05-25","r":50.7,"k":"rsi"},{"t":"2025-05-27","r":48.4,"k":"rsi"},{"t":"2025-05-29","r":45,"k":"rsi"},{"t":"2025-05-30","r":38.1,"k":"rsi"},{"t":"2025-05-31","r":40.7,"k":"rsi"},{"t":"2025-06-02","r":42.1,"k":"rsi"},{"t":"2025-06-03","r":46.7,"k":"rsi"},{"t":"2025-06-04","r":44.5,"k":"rsi"},{"t":"2025-06-05","r":37.2,"k":"rsi"},{"t":"2025-06-07","r":44.1,"k":"rsi"},{"t":"2025-06-09","r":54.8,"k":"rsi"},{"t":"2025-06-10","r":54.5,"k":"rsi"},{"t":"2025-06-11","r":46.7,"k":"rsi"},{"t":"2025-06-13","r":42.4,"k":"rsi"},{"t":"2025-06-14","r":42.1,"k":"rsi"},{"t":"2025-06-16","r":50.7,"k":"rsi"},{"t":"2025-06-17","r":45.5,"k":"rsi"},{"t":"2025-06-19","r":45,"k":"rsi"},{"t":"2025-06-22","r":35.5,"k":"rsi"},{"t":"2025-06-23","r":49.3,"k":"rsi"},{"t":"2025-06-24","r":50.7,"k":"rsi"},{"t":"2025-06-25","r":50.2,"k":"rsi"},{"t":"2025-06-26","r":44.5,"k":"rsi"},{"t":"2025-06-28","r":51,"k":"rsi"},{"t":"2025-06-30","r":54.5,"k":"rsi"},{"t":"2025-07-01","r":49.3,"k":"rsi"},{"t":"2025-07-03","r":55.3,"k":"rsi"},{"t":"2025-07-04","r":55.3,"k":"rsi"},{"t":"2025-07-05","r":52.4,"k":"rsi"},{"t":"2025-07-06","r":52.4,"k":"rsi"},{"t":"2025-07-07","r":56.2,"k":"rsi"},{"t":"2025-07-08","r":56.7,"k":"rsi"},{"t":"2025-07-09","r":60.5,"k":"rsi"},{"t":"2025-07-10","r":70,"k":"rsi"},{"t":"2025-07-11","r":78.6,"k":"rsi"},{"t":"2025-07-12","r":79.1,"k":"rsi"},{"t":"2025-07-14","r":83.8,"k":"rsi"},{"t":"2025-07-15","r":80.7,"k":"rsi"},{"t":"2025-07-17","r":88.6,"k":"rsi"},{"t":"2025-07-18","r":84.1,"k":"rsi"},{"t":"2025-07-20","r":84.3,"k":"rsi"},{"t":"2025-07-21","r":86,"k":"rsi"},{"t":"2025-07-22","r":86,"k":"rsi"},{"t":"2025-07-23","r":63.1,"k":"rsi"},{"t":"2025-07-24","r":61,"k":"rsi"},{"t":"2025-07-26","r":61,"k":"rsi"},{"t":"2025-07-27","r":64,"k":"rsi"},{"t":"2025-07-28","r":58.4,"k":"rsi"},{"t":"2025-07-29","r":57.9,"k":"rsi"},{"t":"2025-07-30","r":55.3,"k":"rsi"},{"t":"2025-08-01","r":49.3,"k":"rsi"},{"t":"2025-08-02","r":41,"k":"rsi"},{"t":"2025-08-04","r":54.8,"k":"rsi"},{"t":"2025-08-05","r":50.2,"k":"rsi"},{"t":"2025-08-06","r":50.5,"k":"rsi"},{"t":"2025-08-07","r":61.9,"k":"rsi"},{"t":"2025-08-09","r":58.3,"k":"rsi"},{"t":"2025-08-11","r":53.6,"k":"rsi"},{"t":"2025-08-12","r":58.8,"k":"rsi"},{"t":"2025-08-13","r":58.8,"k":"rsi"},{"t":"2025-08-14","r":50.2,"k":"rsi"},{"t":"2025-08-16","r":51,"k":"rsi"},{"t":"2025-08-18","r":50.2,"k":"rsi"},{"t":"2025-08-19","r":41,"k":"rsi"},{"t":"2025-08-20","r":45.5,"k":"rsi"},{"t":"2025-08-21","r":42.1,"k":"rsi"},{"t":"2025-08-22","r":51.4,"k":"rsi"},{"t":"2025-08-24","r":50.2,"k":"rsi"},{"t":"2025-08-25","r":42.9,"k":"rsi"},{"t":"2025-08-26","r":49.3,"k":"rsi"},{"t":"2025-08-28","r":46.7,"k":"rsi"},{"t":"2025-08-29","r":42.4,"k":"rsi"},{"t":"2025-08-31","r":41.6,"k":"rsi"},{"t":"2025-09-01","r":39.8,"k":"rsi"},{"t":"2025-09-02","r":45.5,"k":"rsi"},{"t":"2025-09-03","r":45,"k":"rsi"},{"t":"2025-09-04","r":42.8,"k":"rsi"},{"t":"2025-09-06","r":44.1,"k":"rsi"},{"t":"2025-09-08","r":52.8,"k":"rsi"},{"t":"2025-09-09","r":52.4,"k":"rsi"},{"t":"2025-09-12","r":60.2,"k":"rsi"},{"t":"2025-09-13","r":60.9,"k":"rsi"},{"t":"2025-09-15","r":52.8,"k":"rsi"},{"t":"2025-09-17","r":57.6,"k":"rsi"},{"t":"2025-09-18","r":56.7,"k":"rsi"},{"t":"2025-09-19","r":50.7,"k":"rsi"},{"t":"2025-09-21","r":49,"k":"rsi"},{"t":"2025-09-22","r":41,"k":"rsi"},{"t":"2025-09-23","r":39.8,"k":"rsi"},{"t":"2025-09-24","r":47.6,"k":"rsi"},{"t":"2025-09-25","r":38.1,"k":"rsi"},{"t":"2025-09-27","r":41.6,"k":"rsi"},{"t":"2025-09-28","r":47.2,"k":"rsi"},{"t":"2025-09-30","r":45.5,"k":"rsi"},{"t":"2025-10-02","r":56.6,"k":"rsi"},{"t":"2025-10-03","r":57.6,"k":"rsi"},{"t":"2025-10-04","r":52.4,"k":"rsi"},{"t":"2025-10-06","r":54,"k":"rsi"},{"t":"2025-10-07","r":45,"k":"rsi"},{"t":"2025-10-08","r":46.2,"k":"rsi"},{"t":"2025-10-09","r":42.4,"k":"rsi"},{"t":"2025-10-10","r":26.9,"k":"rsi"},{"t":"2025-10-11","r":26.9,"k":"rsi"},{"t":"2025-10-13","r":40.7,"k":"rsi"},{"t":"2025-10-17","r":30.9,"k":"rsi"},{"t":"2025-10-19","r":36.4,"k":"rsi"},{"t":"2025-10-20","r":42.8,"k":"rsi"},{"t":"2025-10-22","r":38.1,"k":"rsi"},{"t":"2025-10-23","r":39.8,"k":"rsi"},{"t":"2025-10-25","r":50.2,"k":"rsi"},{"t":"2025-10-26","r":53.1,"k":"rsi"},{"t":"2025-10-28","r":51.4,"k":"rsi"},{"t":"2025-10-30","r":42.8,"k":"rsi"},{"t":"2025-10-31","r":46.2,"k":"rsi"},{"t":"2025-11-02","r":46.7,"k":"rsi"},{"t":"2025-11-03","r":39,"k":"rsi"},{"t":"2025-11-04","r":33.8,"k":"rsi"},{"t":"2025-11-05","r":42.1,"k":"rsi"},{"t":"2025-11-06","r":37.6,"k":"rsi"},{"t":"2025-11-07","r":42.8,"k":"rsi"},{"t":"2025-11-08","r":42.1,"k":"rsi"},{"t":"2025-11-10","r":52.8,"k":"rsi"},{"t":"2025-11-11","r":47.6,"k":"rsi"},{"t":"2025-11-12","r":46.7,"k":"rsi"},{"t":"2025-11-14","r":42.1,"k":"rsi"},{"t":"2025-11-16","r":41,"k":"rsi"},{"t":"2025-11-17","r":38.4,"k":"rsi"},{"t":"2025-11-18","r":42.1,"k":"rsi"},{"t":"2025-11-21","r":31.7,"k":"rsi"},{"t":"2025-11-22","r":31.4,"k":"rsi"},{"t":"2025-11-23","r":37.2,"k":"rsi"},{"t":"2025-11-24","r":48.8,"k":"rsi"},{"t":"2025-11-25","r":48.8,"k":"rsi"},{"t":"2025-11-28","r":46.7,"k":"rsi"},{"t":"2025-11-29","r":47.6,"k":"rsi"},{"t":"2025-11-30","r":45.9,"k":"rsi"},{"t":"2025-12-01","r":39,"k":"rsi"},{"t":"2025-12-03","r":49.3,"k":"rsi"},{"t":"2025-12-05","r":42.1,"k":"rsi"},{"t":"2025-12-07","r":41.2,"k":"rsi"},{"t":"2025-12-08","r":41.6,"k":"rsi"},{"t":"2025-12-09","r":46.4,"k":"rsi"},{"t":"2025-12-10","r":43.3,"k":"rsi"},{"t":"2025-12-12","r":41,"k":"rsi"},{"t":"2025-12-13","r":41.9,"k":"rsi"},{"t":"2025-12-15","r":34.7,"k":"rsi"},{"t":"2025-12-16","r":38.1,"k":"rsi"},{"t":"2025-12-18","r":31.2,"k":"rsi"},{"t":"2025-12-19","r":40.7,"k":"rsi"},{"t":"2025-12-20","r":42.4,"k":"rsi"},{"t":"2025-12-21","r":42.1,"k":"rsi"},{"t":"2025-12-23","r":39.3,"k":"rsi"},{"t":"2025-12-25","r":36.7,"k":"rsi"},{"t":"2025-12-27","r":41,"k":"rsi"},{"t":"2025-12-29","r":39.8,"k":"rsi"},{"t":"2025-12-30","r":42.1,"k":"rsi"},{"t":"2025-12-31","r":39.8,"k":"rsi"},{"t":"2026-01-01","r":45,"k":"rsi"},{"t":"2026-01-02","r":56.7,"k":"rsi"},{"t":"2026-01-03","r":60.5,"k":"rsi"},{"t":"2026-01-05","r":74.8,"k":"rsi"},{"t":"2026-01-07","r":67.37,"k":"rsi"},
{"t":"2025-04-20","r":45.5,"k":"rsima"},{"t":"2025-04-24","r":49.7,"k":"rsima"},{"t":"2025-04-30","r":52.4,"k":"rsima"},{"t":"2025-05-06","r":53.3,"k":"rsima"},{"t":"2025-05-14","r":57.1,"k":"rsima"},{"t":"2025-05-21","r":59.7,"k":"rsima"},{"t":"2025-05-24","r":57.9,"k":"rsima"},{"t":"2025-05-29","r":51.9,"k":"rsima"},{"t":"2025-06-03","r":46.2,"k":"rsima"},{"t":"2025-06-07","r":44.1,"k":"rsima"},{"t":"2025-06-12","r":45.5,"k":"rsima"},{"t":"2025-06-19","r":46.7,"k":"rsima"},{"t":"2025-06-26","r":44.5,"k":"rsima"},{"t":"2025-07-01","r":46.2,"k":"rsima"},{"t":"2025-07-09","r":52.4,"k":"rsima"},{"t":"2025-07-13","r":63.1,"k":"rsima"},{"t":"2025-07-18","r":75.2,"k":"rsima"},{"t":"2025-07-22","r":81.7,"k":"rsima"},{"t":"2025-07-27","r":77.8,"k":"rsima"},{"t":"2025-08-01","r":64,"k":"rsima"},{"t":"2025-08-06","r":55.3,"k":"rsima"},{"t":"2025-08-12","r":53.6,"k":"rsima"},{"t":"2025-08-17","r":55,"k":"rsima"},{"t":"2025-08-23","r":51,"k":"rsima"},{"t":"2025-08-30","r":47.6,"k":"rsima"},{"t":"2025-09-01","r":45.5,"k":"rsima"},{"t":"2025-09-07","r":44.1,"k":"rsima"},{"t":"2025-09-11","r":46.7,"k":"rsima"},{"t":"2025-09-16","r":51.9,"k":"rsima"},{"t":"2025-09-20","r":54.5,"k":"rsima"},{"t":"2025-09-25","r":50.2,"k":"rsima"},{"t":"2025-09-30","r":46.2,"k":"rsima"},{"t":"2025-10-09","r":48.4,"k":"rsima"},{"t":"2025-10-15","r":44.1,"k":"rsima"},{"t":"2025-10-19","r":37.2,"k":"rsima"},{"t":"2025-10-23","r":35.5,"k":"rsima"},{"t":"2025-10-27","r":39.8,"k":"rsima"},{"t":"2025-11-01","r":45.5,"k":"rsima"},{"t":"2025-11-06","r":44.7,"k":"rsima"},{"t":"2025-11-11","r":43.8,"k":"rsima"},{"t":"2025-11-17","r":43.3,"k":"rsima"},{"t":"2025-11-25","r":39.8,"k":"rsima"},{"t":"2025-12-01","r":41.9,"k":"rsima"},{"t":"2025-12-07","r":45,"k":"rsima"},{"t":"2025-12-12","r":43.3,"k":"rsima"},{"t":"2025-12-18","r":39.8,"k":"rsima"},{"t":"2025-12-25","r":38.4,"k":"rsima"},{"t":"2026-01-01","r":39.8,"k":"rsima"},{"t":"2026-01-04","r":45.9,"k":"rsima"},{"t":"2026-01-07","r":50.47,"k":"rsima"}
],
"macd":[
{"t":"2025-04-20","m":-0.029,"k":"macd"},{"t":"2025-04-25","m":0.003,"k":"macd"},{"t":"2025-04-30","m":0.022,"k":"macd"},{"t":"2025-05-05","m":0.012,"k":"macd"},{"t":"2025-05-10","m":0.04,"k":"macd"},{"t":"2025-05-14","m":0.075,"k":"macd"},{"t":"2025-05-19","m":0.054,"k":"macd"},{"t":"2025-05-24","m":0.044,"k":"macd"},{"t":"2025-05-29","m":0.012,"k":"macd"},{"t":"2025-06-03","m":-0.022,"k":"macd"},{"t":"2025-06-08","m":-0.029,"k":"macd"},{"t":"2025-06-13","m":-0.013,"k":"macd"},{"t":"2025-06-18","m":-0.021,"k":"macd"},{"t":"2025-06-23","m":-0.031,"k":"macd"},{"t":"2025-06-28","m":-0.024,"k":"macd"},{"t":"2025-07-03","m":-0.001,"k":"macd"},{"t":"2025-07-08","m":0.011,"k":"macd"},{"t":"2025-07-12","m":0.068,"k":"macd"},{"t":"2025-07-16","m":0.151,"k":"macd"},{"t":"2025-07-20","m":0.235,"k":"macd"},{"t":"2025-07-23","m":0.253,"k":"macd"},{"t":"2025-07-25","m":0.207,"k":"macd"},{"t":"2025-07-30","m":0.138,"k":"macd"},{"t":"2025-08-04","m":0.054,"k":"macd"},{"t":"2025-08-07","m":0.061,"k":"macd"},{"t":"2025-08-12","m":0.065,"k":"macd"},{"t":"2025-08-17","m":0.033,"k":"macd"},{"t":"2025-08-22","m":-0.011,"k":"macd"},{"t":"2025-08-27","m":-0.018,"k":"macd"},{"t":"2025-09-01","m":-0.047,"k":"macd"},{"t":"2025-09-06","m":-0.047,"k":"macd"},{"t":"2025-09-11","m":-0.001,"k":"macd"},{"t":"2025-09-16","m":0.024,"k":"macd"},{"t":"2025-09-21","m":0.019,"k":"macd"},{"t":"2025-09-26","m":-0.019,"k":"macd"},{"t":"2025-10-01","m":-0.026,"k":"macd"},{"t":"2025-10-06","m":0.006,"k":"macd"},{"t":"2025-10-10","m":-0.008,"k":"macd"},{"t":"2025-10-13","m":-0.071,"k":"macd"},{"t":"2025-10-18","m":-0.119,"k":"macd"},{"t":"2025-10-23","m":-0.101,"k":"macd"},{"t":"2025-10-28","m":-0.039,"k":"macd"},{"t":"2025-11-02","m":-0.033,"k":"macd"},{"t":"2025-11-07","m":-0.065,"k":"macd"},{"t":"2025-11-12","m":-0.047,"k":"macd"},{"t":"2025-11-17","m":-0.056,"k":"macd"},{"t":"2025-11-22","m":-0.096,"k":"macd"},{"t":"2025-11-27","m":-0.057,"k":"macd"},{"t":"2025-12-02","m":-0.043,"k":"macd"},{"t":"2025-12-07","m":-0.043,"k":"macd"},{"t":"2025-12-12","m":-0.047,"k":"macd"},{"t":"2025-12-17","m":-0.058,"k":"macd"},{"t":"2025-12-22","m":-0.058,"k":"macd"},{"t":"2025-12-27","m":-0.056,"k":"macd"},{"t":"2026-01-01","m":-0.047,"k":"macd"},{"t":"2026-01-04","m":-0.015,"k":"macd"},{"t":"2026-01-07","m":0.0584,"k":"macd"},
{"t":"2025-04-20","m":-0.047,"k":"signal"},{"t":"2025-04-25","m":-0.011,"k":"signal"},{"t":"2025-04-30","m":0.008,"k":"signal"},{"t":"2025-05-05","m":0.006,"k":"signal"},{"t":"2025-05-10","m":0.022,"k":"signal"},{"t":"2025-05-14","m":0.05,"k":"signal"},{"t":"2025-05-19","m":0.057,"k":"signal"},{"t":"2025-05-24","m":0.046,"k":"signal"},{"t":"2025-05-29","m":0.024,"k":"signal"},{"t":"2025-06-03","m":-0.006,"k":"signal"},{"t":"2025-06-08","m":-0.019,"k":"signal"},{"t":"2025-06-13","m":-0.015,"k":"signal"},{"t":"2025-06-18","m":-0.021,"k":"signal"},{"t":"2025-06-23","m":-0.026,"k":"signal"},{"t":"2025-06-28","m":-0.022,"k":"signal"},{"t":"2025-07-03","m":-0.01,"k":"signal"},{"t":"2025-07-08","m":0.004,"k":"signal"},{"t":"2025-07-12","m":0.026,"k":"signal"},{"t":"2025-07-16","m":0.082,"k":"signal"},{"t":"2025-07-20","m":0.165,"k":"signal"},{"t":"2025-07-23","m":0.21,"k":"signal"},{"t":"2025-07-25","m":0.217,"k":"signal"},{"t":"2025-07-30","m":0.165,"k":"signal"},{"t":"2025-08-04","m":0.103,"k":"signal"},{"t":"2025-08-07","m":0.078,"k":"signal"},{"t":"2025-08-12","m":0.068,"k":"signal"},{"t":"2025-08-17","m":0.047,"k":"signal"},{"t":"2025-08-22","m":0.019,"k":"signal"},{"t":"2025-08-27","m":0,"k":"signal"},{"t":"2025-09-01","m":-0.033,"k":"signal"},{"t":"2025-09-06","m":-0.043,"k":"signal"},{"t":"2025-09-11","m":-0.019,"k":"signal"},{"t":"2025-09-16","m":0.003,"k":"signal"},{"t":"2025-09-21","m":0.013,"k":"signal"},{"t":"2025-09-26","m":-0.006,"k":"signal"},{"t":"2025-10-01","m":-0.019,"k":"signal"},{"t":"2025-10-06","m":-0.004,"k":"signal"},{"t":"2025-10-10","m":-0.004,"k":"signal"},{"t":"2025-10-13","m":-0.043,"k":"signal"},{"t":"2025-10-18","m":-0.078,"k":"signal"},{"t":"2025-10-23","m":-0.099,"k":"signal"},{"t":"2025-10-28","m":-0.064,"k":"signal"},{"t":"2025-11-02","m":-0.049,"k":"signal"},{"t":"2025-11-07","m":-0.057,"k":"signal"},{"t":"2025-11-12","m":-0.054,"k":"signal"},{"t":"2025-11-17","m":-0.057,"k":"signal"},{"t":"2025-11-22","m":-0.079,"k":"signal"},{"t":"2025-11-27","m":-0.064,"k":"signal"},{"t":"2025-12-02","m":-0.051,"k":"signal"},{"t":"2025-12-07","m":-0.046,"k":"signal"},{"t":"2025-12-12","m":-0.046,"k":"signal"},{"t":"2025-12-17","m":-0.056,"k":"signal"},{"t":"2025-12-22","m":-0.058,"k":"signal"},{"t":"2025-12-27","m":-0.057,"k":"signal"},{"t":"2026-01-01","m":-0.05,"k":"signal"},{"t":"2026-01-04","m":-0.039,"k":"signal"},{"t":"2026-01-07","m":-0.0015,"k":"signal"}
],
"dashed":[{"t":"2025-04-19T14:00:00Z","t2":"2026-04-19T11:00:00Z","p":3.4,"k":"blk"},{"t":"2025-04-19T14:00:00Z","t2":"2026-04-19T11:00:00Z","p":2.7245,"k":"bluel"},{"t":"2025-04-19T14:00:00Z","t2":"2026-04-19T11:00:00Z","p":1.9669,"k":"rose"},{"t":"2025-04-19T14:00:00Z","t2":"2026-04-19T11:00:00Z","p":1.3001,"k":"rose"},{"t":"2025-04-19T14:00:00Z","t2":"2026-04-19T11:00:00Z","p":0.7719,"k":"blk"}],
"dotted":[{"t":"2025-07-18","t2":"2026-04-19T11:00:00Z","p":3.6607,"k":"ath"},{"t":"2025-04-19T14:00:00Z","t2":"2026-04-19T11:00:00Z","p":2.3547,"k":"yel"},{"t":"2025-04-19T14:00:00Z","t2":"2026-04-19T11:00:00Z","p":2.273,"k":"last"}],
"solid":[{"t":"2025-12-19","t2":"2026-04-19T11:00:00Z","p":1.7711,"k":"purple"}],
"trend":[{"t":"2025-07-21","t2":"2026-01-17","p":3.666,"p2":2.273,"k":"blk"},{"t":"2025-07-14","t2":"2025-12-24","p":2.828,"p2":1.718,"k":"blk"}],
"panes":[{"t":"2025-04-19T14:00:00Z","t2":"2026-05-06","p":4.2357,"k":"grid"},{"t":"2025-04-19T14:00:00Z","t2":"2026-05-06","p":0.5497,"k":"grid"},{"t":"2025-04-19T14:00:00Z","t2":"2026-05-06","p":-0.7426,"k":"grid"},{"t":"2025-04-19T14:00:00Z","t2":"2026-05-06","p":-1.3844,"k":"grid"},{"t":"2025-04-19T14:00:00Z","t2":"2026-05-06","p":-2.694,"k":"grid"}],
"rsiband":[{"t":"2025-04-19T14:00:00Z","t2":"2026-04-19T11:00:00Z","a":70,"b":30,"k":"rsi"}],
"rsilev":[{"t":"2025-04-19T14:00:00Z","t2":"2026-04-19T11:00:00Z","r":70,"k":"pale"},{"t":"2025-04-19T14:00:00Z","t2":"2026-04-19T11:00:00Z","r":50,"k":"pale"},{"t":"2025-04-19T14:00:00Z","t2":"2026-04-19T11:00:00Z","r":30,"k":"pale"}],
"macdzero":[{"t":"2025-04-19T14:00:00Z","t2":"2026-04-19T11:00:00Z","m":0,"k":"pale"}],
"box":[{"t":"2026-02-23T17:00:00Z","t2":"2026-05-10","a":0.279,"b":-0.1625,"k":"blk"}],
"labels":[
{"t":"2025-04-21T12:00:00Z","p":4.06,"s":"XRP / TetherUS · 1D · Binance","k":"ink"},
{"t":"2025-06-05T18:00:00Z","p":4.06,"s":"O","k":"ink"},{"t":"2025-06-07T18:00:00Z","p":4.06,"s":"2.3042","k":"down"},
{"t":"2025-06-19T06:00:00Z","p":4.06,"s":"H","k":"ink"},{"t":"2025-06-21T06:00:00Z","p":4.06,"s":"2.3205","k":"down"},
{"t":"2025-07-03","p":4.06,"s":"L","k":"ink"},{"t":"2025-07-04T12:00:00Z","p":4.06,"s":"2.2565","k":"down"},
{"t":"2025-07-16","p":4.06,"s":"C","k":"ink"},{"t":"2025-07-18","p":4.06,"s":"2.2730","k":"down"},
{"t":"2025-07-29T18:00:00Z","p":4.06,"s":"-0.0312 (-1.35%)","k":"down"},
{"t":"2025-04-21T12:00:00Z","p":3.863,"s":"SMA by KGS (close, 10, 20, 50, 100, 200, 10, 20, 50, 100, 200, 10, 20, 50, 100, 200)","k":"ink"},
{"t":"2025-08-21T12:00:00Z","p":3.863,"s":"2.0728","k":"redtag"},{"t":"2025-09-02","p":3.863,"s":"2.3461","k":"ink"}
],
"tvtext":[{"t":"2025-04-30","p":-3.065,"s":"TradingView","k":"ink"}],
"rsitext":[{"t":"2025-04-21T12:00:00Z","r":86,"s":"RSI (14, close)","k":"ink"},{"t":"2025-05-14","r":86,"s":"67.37","k":"rsi"},{"t":"2025-05-24","r":86,"s":"50.47","k":"rsima"},{"t":"2025-06-02T18:00:00Z","r":86,"s":"∅","k":"ink"},{"t":"2025-06-07","r":86,"s":"∅","k":"ink"}],
"voltext":[{"t":"2025-04-21T12:00:00Z","v":507,"s":"Vol · XRP","k":"ink"},{"t":"2025-05-06T12:00:00Z","v":507,"s":"18.62 M","k":"down"}],
"macdtext":[{"t":"2025-04-21T12:00:00Z","m":0.233,"s":"MACD (close, 12, 26, 9)","k":"ink"},{"t":"2025-05-27","m":0.233,"s":"0.0599","k":"gd"},{"t":"2025-06-07T18:00:00Z","m":0.233,"s":"0.0584","k":"macd"},{"t":"2025-06-19T10:00:00Z","m":0.233,"s":"-0.0015","k":"signal"}],
"notes":[{"t":"2026-04-17T10:00:00Z","p":3.778,"s":"new ATH","k":"ath"},{"t":"2026-04-17T10:00:00Z","p":2.085,"s":"Daily S/R","k":"rose"},{"t":"2026-04-17T10:00:00Z","p":1.894,"s":"LOW","k":"purple"},{"t":"2026-04-17T10:00:00Z","p":1.425,"s":"Weekly S/R","k":"rose"},{"t":"2026-04-17T10:00:00Z","p":0.888,"s":"Daily S/R","k":"rose"}],
"tags":[{"t":"2026-04-26T06:00:00Z","p":3.655,"s":"3.6607","k":"ath"},{"t":"2026-04-26T06:00:00Z","p":3.388,"s":"3.4000","k":"blk"},{"t":"2026-04-26T06:00:00Z","p":2.845,"s":"2.7245","k":"blue"},{"t":"2026-04-26T06:00:00Z","p":2.657,"s":"2.3547","k":"yel"},{"t":"2026-04-26T06:00:00Z","p":2.46,"s":"2.3461","k":"blk"},{"t":"2026-04-26T06:00:00Z","p":1.914,"s":"2.0728","k":"redtag"},{"t":"2026-04-26T06:00:00Z","p":1.718,"s":"1.9669","k":"down"},{"t":"2026-04-26T06:00:00Z","p":1.521,"s":"1.7711","k":"purple"},{"t":"2026-04-26T06:00:00Z","p":1.298,"s":"1.3001","k":"down"},{"t":"2026-04-26T06:00:00Z","p":0.77,"s":"0.7719","k":"blk"}],
"lasttag":[{"t":"2026-04-27T12:00:00Z","p":2.185,"k":"down"}],
"lasttext":[{"t":"2026-04-26T06:00:00Z","p":2.267,"s":"2.2730","k":"down"},{"t":"2026-04-27T12:00:00Z","p":2.102,"s":"20:42:19","k":"down"}],
"rsitags":[{"t":"2026-04-25T06:00:00Z","r":67.25,"s":"67.37","k":"rsi"},{"t":"2026-04-25T06:00:00Z","r":50.5,"s":"50.47","k":"rsima"}],
"voltag":[{"t":"2026-04-26T14:00:00Z","v":114,"s":"18.62 M","k":"rd"}],
"usdt":[{"t":"2026-04-26T06:00:00Z","p":4.055,"s":"USDT","k":"ink"}],
"tvlogo":[{"t":"2025-04-24","p":-3.065,"k":"ink"}],
"mark":[{"t":"2026-04-22","m":0.0625,"k":"blue"}],
"brand":[{"t":"2026-03-25T22:00:00Z","m":0.0667,"s":"اوکی اکسچنج","k":"white"}]
},
"encoding":{
"x":{"field":"t","type":"temporal","scale":{"type":"utc","domain":["2025-04-16T18:00:00Z","2026-05-09T16:00:00Z"]},"axis":{"orient":"bottom","offset":-166,"title":null,"grid":false,"ticks":false,"domain":false,"labelPadding":0,"labelFont":"Roboto","labelFontSize":15,"labelColor":"#131722","labelBaseline":"top","labelAlign":"center","labelOverlap":false,"labelBound":false,"labelFlush":false,"values":["2025-05-01","2025-06-01","2025-07-01","2025-08-01","2025-09-01","2025-10-01","2025-11-01","2025-12-01","2026-01-01","2026-02-01","2026-03-01","2026-04-01"],"labelExpr":"utcFormat(datum.value,'%m')==='01' ? '2026' : utcFormat(datum.value,'%b')","labelFontWeight":{"condition":{"test":"datum.label === '2026'","value":"bold"},"value":"normal"}}},
"color":{"field":"k","type":"nominal","legend":null,"scale":{"domain":["up","down","gu","gd","rd","ru","ath","blk","blue","bluel","yel","rose","purple","sma50","rsi","rsima","macd","signal","ink","pale","redtag","grid","last","white"],"range":["#089981","#f23645","#26a69a","#b2dfdb","#ff5252","#ffcdd2","#4caf50","#000000","#2962ff","#3f51c8","#ffeb3b","#d63864","#9c27b0","#f50f0f","#7e57c2","#fdd835","#2962ff","#ff6d00","#131722","#787b86","#ff0000","#eef0f4","#a8746e","#ffffff"]}}
},
"resolve":{"scale":{"y":"independent"},"axis":{"y":"independent"}},
"layer":[
{"data":{"name":"panes"},"mark":{"type":"rule","strokeWidth":1.5},"encoding":{"x2":{"field":"t2"},"y":{"field":"p","type":"quantitative","axis":null,"scale":{"domain":[0.5497,4.2357],"range":[563,138]}}}},
{"data":{"name":"rsiband"},"mark":{"type":"rect","opacity":0.08},"encoding":{"x2":{"field":"t2"},"y":{"field":"a","type":"quantitative","axis":null,"scale":{"domain":[19.97,97.38],"range":[712,563]}},"y2":{"field":"b"}}},
{"data":{"name":"rsi"},"transform":[{"filter":"datum.k==='rsi' && datum.r>=70 && time(datum.t)<time('2025-08-01')"}],"mark":{"type":"area"},"encoding":{"color":{"value":{"gradient":"linear","x1":0,"y1":0,"x2":0,"y2":1,"stops":[{"offset":0,"color":"#1f8f5f"},{"offset":1,"color":"#e8f5e9"}]}},"opacity":{"value":0.7},"y":{"field":"r","type":"quantitative","axis":null,"scale":{"domain":[19.97,97.38],"range":[712,563]}},"y2":{"datum":70}}},
{"data":{"name":"rsilev"},"mark":{"type":"rule","strokeWidth":1,"strokeDash":[4,4]},"encoding":{"x2":{"field":"t2"},"y":{"field":"r","type":"quantitative","scale":{"domain":[19.97,97.38],"range":[712,563]},"axis":{"orient":"right","offset":-89,"title":null,"grid":false,"ticks":false,"domain":false,"values":[25,75],"format":".2f","labelAlign":"left","labelPadding":0,"labelFont":"Roboto","labelFontSize":15,"labelColor":"#131722"}}}},
{"data":{"name":"macdzero"},"mark":{"type":"rule","strokeWidth":1,"strokeDash":[4,4],"opacity":0.6},"encoding":{"x2":{"field":"t2"},"y":{"field":"m","type":"quantitative","axis":null,"scale":{"domain":[-0.3083,0.3208],"range":[937,786]}}}},
{"data":{"name":"dashed"},"mark":{"type":"rule","strokeWidth":2,"strokeDash":[13,10]},"encoding":{"x2":{"field":"t2"},"y":{"field":"p","type":"quantitative","scale":{"domain":[0.5497,4.2357],"range":[563,138]},"axis":{"orient":"right","offset":-89,"title":null,"grid":false,"ticks":false,"domain":false,"values":[1,3,3.5],"format":".4f","labelAlign":"left","labelPadding":0,"labelFont":"Roboto","labelFontSize":15,"labelColor":"#131722"}}}},
{"data":{"name":"dotted"},"mark":{"type":"rule","strokeWidth":2,"strokeDash":[2,3]},"encoding":{"x2":{"field":"t2"},"y":{"field":"p","type":"quantitative","axis":null,"scale":{"domain":[0.5497,4.2357],"range":[563,138]}}}},
{"data":{"name":"solid"},"mark":{"type":"rule","strokeWidth":2},"encoding":{"x2":{"field":"t2"},"y":{"field":"p","type":"quantitative","axis":null,"scale":{"domain":[0.5497,4.2357],"range":[563,138]}}}},
{"data":{"name":"candles"},"mark":{"type":"rule","strokeWidth":1},"encoding":{"y":{"field":"l","type":"quantitative","axis":null,"scale":{"domain":[0.5497,4.2357],"range":[563,138]}},"y2":{"field":"h"}}},
{"data":{"name":"candles"},"mark":{"type":"rule","strokeWidth":3.5},"encoding":{"y":{"field":"o","type":"quantitative","axis":null,"scale":{"domain":[0.5497,4.2357],"range":[563,138]}},"y2":{"field":"c"}}},
{"data":{"name":"sma"},"mark":{"type":"line","strokeWidth":3,"interpolate":"monotone"},"encoding":{"y":{"field":"p","type":"quantitative","axis":null,"scale":{"domain":[0.5497,4.2357],"range":[563,138]}}}},
{"data":{"name":"trend"},"mark":{"type":"rule","strokeWidth":2.2},"encoding":{"x2":{"field":"t2"},"y":{"field":"p","type":"quantitative","axis":null,"scale":{"domain":[0.5497,4.2357],"range":[563,138]}},"y2":{"field":"p2"}}},
{"data":{"name":"rsi"},"transform":[{"filter":"datum.k==='rsima'"}],"mark":{"type":"line","strokeWidth":2,"opacity":0.6,"interpolate":"monotone"},"encoding":{"y":{"field":"r","type":"quantitative","axis":null,"scale":{"domain":[19.97,97.38],"range":[712,563]}}}},
{"data":{"name":"rsi"},"transform":[{"filter":"datum.k==='rsi'"}],"mark":{"type":"line","strokeWidth":1.3},"encoding":{"color":{"value":"#6f68a8"},"y":{"field":"r","type":"quantitative","axis":null,"scale":{"domain":[19.97,97.38],"range":[712,563]}}}},
{"data":{"name":"candles"},"mark":{"type":"rule","strokeWidth":2.6,"opacity":0.5},"encoding":{"y":{"field":"v","type":"quantitative","scale":{"domain":[0,722],"range":[786,712]},"axis":{"orient":"right","offset":-89,"title":null,"grid":false,"ticks":false,"domain":false,"values":[400],"labelExpr":"datum.value+' M'","labelAlign":"left","labelPadding":0,"labelFont":"Roboto","labelFontSize":15,"labelColor":"#131722"}},"y2":{"datum":0}}},
{"data":{"name":"candles"},"mark":{"type":"rule","strokeWidth":3},"encoding":{"color":{"field":"j","type":"nominal","legend":null,"scale":{"domain":["up","down","gu","gd","rd","ru","ath","blk","blue","bluel","yel","rose","purple","sma50","rsi","rsima","macd","signal","ink","pale","redtag","grid","last","white"],"range":["#089981","#f23645","#26a69a","#b2dfdb","#ff5252","#ffcdd2","#4caf50","#000000","#2962ff","#3f51c8","#ffeb3b","#d63864","#9c27b0","#f50f0f","#7e57c2","#fdd835","#2962ff","#ff6d00","#131722","#787b86","#ff0000","#eef0f4","#a8746e","#ffffff"]}},"y":{"field":"m","type":"quantitative","axis":null,"scale":{"domain":[-0.3083,0.3208],"range":[937,786]}},"y2":{"datum":0}}},
{"data":{"name":"macd"},"mark":{"type":"line","strokeWidth":1.5,"interpolate":"monotone"},"encoding":{"y":{"field":"m","type":"quantitative","axis":null,"scale":{"domain":[-0.3083,0.3208],"range":[937,786]}}}},
{"data":{"name":"box"},"mark":{"type":"rect","cornerRadiusTopLeft":53,"cornerRadiusBottomLeft":53},"encoding":{"x2":{"field":"t2"},"y":{"field":"a","type":"quantitative","axis":null,"scale":{"domain":[-0.3083,0.3208],"range":[937,786]}},"y2":{"field":"b"}}},
{"data":{"name":"mark"},"mark":{"type":"point","filled":true,"opacity":1,"size":3280,"shape":"M0,-1.1L0.95,-0.55L0.95,0.55L0,1.1L-0.95,0.55L-0.95,-0.55Z"},"encoding":{"color":{"value":"#3f5fd6"},"y":{"field":"m","type":"quantitative","axis":null,"scale":{"domain":[-0.3083,0.3208],"range":[937,786]}}}},
{"data":{"name":"mark"},"mark":{"type":"point","filled":true,"opacity":1,"size":900,"shape":"circle"},"encoding":{"color":{"value":"#2b3aa6"},"y":{"field":"m","type":"quantitative","axis":null,"scale":{"domain":[-0.3083,0.3208],"range":[937,786]}}}},
{"data":{"name":"mark"},"mark":{"type":"point","filled":false,"opacity":1,"size":620,"shape":"circle","strokeWidth":9},"encoding":{"color":{"value":"#ffffff"},"y":{"field":"m","type":"quantitative","axis":null,"scale":{"domain":[-0.3083,0.3208],"range":[937,786]}}}},
{"data":{"name":"brand"},"mark":{"type":"text","font":"DejaVu Sans","fontWeight":"bold","fontSize":33,"align":"center","baseline":"middle"},"encoding":{"text":{"field":"s"},"y":{"field":"m","type":"quantitative","axis":null,"scale":{"domain":[-0.3083,0.3208],"range":[937,786]}}}},
{"data":{"name":"labels"},"mark":{"type":"text","font":"Roboto","fontSize":16,"align":"left","baseline":"middle"},"encoding":{"text":{"field":"s"},"size":{"condition":{"test":"indexof(datum.s,'SMA')===0","value":16.6},"value":16},"y":{"field":"p","type":"quantitative","axis":null,"scale":{"domain":[0.5497,4.2357],"range":[563,138]}}}},
{"data":{"name":"tvtext"},"mark":{"type":"text","font":"Roboto","fontSize":29,"fontWeight":500,"align":"left","baseline":"middle"},"encoding":{"text":{"field":"s"},"y":{"field":"p","type":"quantitative","axis":null,"scale":{"domain":[0.5497,4.2357],"range":[563,138]}}}},
{"data":{"name":"tvlogo"},"mark":{"type":"point","filled":true,"opacity":1,"size":1521,"shape":"M-1,-0.5H-0.1V0.5H-0.55V-0.05H-1ZM0.35,-0.28A0.2,0.2 0 1 1 -0.05,-0.28A0.2,0.2 0 1 1 0.35,-0.28ZM0.55,-0.5H1L0.55,0.5H0.1Z"},"encoding":{"y":{"field":"p","type":"quantitative","axis":null,"scale":{"domain":[0.5497,4.2357],"range":[563,138]}}}},
{"data":{"name":"rsitext"},"mark":{"type":"text","font":"Roboto","fontSize":16,"align":"left","baseline":"middle"},"encoding":{"text":{"field":"s"},"y":{"field":"r","type":"quantitative","axis":null,"scale":{"domain":[19.97,97.38],"range":[712,563]}}}},
{"data":{"name":"voltext"},"mark":{"type":"text","font":"Roboto","fontSize":16,"align":"left","baseline":"middle"},"encoding":{"text":{"field":"s"},"y":{"field":"v","type":"quantitative","axis":null,"scale":{"domain":[0,722],"range":[786,712]}}}},
{"data":{"name":"macdtext"},"mark":{"type":"text","font":"Roboto","fontSize":16,"align":"left","baseline":"middle"},"encoding":{"text":{"field":"s"},"y":{"field":"m","type":"quantitative","axis":null,"scale":{"domain":[-0.3083,0.3208],"range":[937,786]}}}},
{"data":{"name":"notes"},"mark":{"type":"text","font":"Roboto","fontSize":16,"align":"right","baseline":"middle"},"encoding":{"text":{"field":"s"},"y":{"field":"p","type":"quantitative","axis":null,"scale":{"domain":[0.5497,4.2357],"range":[563,138]}}}},
{"data":{"name":"usdt"},"mark":{"type":"text","font":"Roboto","fontSize":15,"align":"center","baseline":"middle"},"encoding":{"text":{"field":"s"},"y":{"field":"p","type":"quantitative","axis":null,"scale":{"domain":[0.5497,4.2357],"range":[563,138]}}}},
{"data":{"name":"tags"},"mark":{"type":"tick","orient":"horizontal","size":65,"thickness":22,"opacity":1},"encoding":{"y":{"field":"p","type":"quantitative","axis":null,"scale":{"domain":[0.5497,4.2357],"range":[563,138]}}}},
{"data":{"name":"lasttag"},"mark":{"type":"tick","orient":"horizontal","size":80,"thickness":41,"opacity":1},"encoding":{"y":{"field":"p","type":"quantitative","axis":null,"scale":{"domain":[0.5497,4.2357],"range":[563,138]}}}},
{"data":{"name":"rsitags"},"mark":{"type":"tick","orient":"horizontal","size":57,"thickness":22,"opacity":1},"encoding":{"y":{"field":"r","type":"quantitative","axis":null,"scale":{"domain":[19.97,97.38],"range":[712,563]}}}},
{"data":{"name":"voltag"},"mark":{"type":"tick","orient":"horizontal","size":71,"thickness":22,"opacity":1},"encoding":{"y":{"field":"v","type":"quantitative","axis":null,"scale":{"domain":[0,722],"range":[786,712]}}}},
{"data":{"name":"tags"},"mark":{"type":"text","font":"Roboto","fontSize":15.5,"align":"center","baseline":"middle"},"encoding":{"text":{"field":"s"},"color":{"condition":{"test":"datum.k==='yel'","value":"#000000"},"value":"#ffffff"},"y":{"field":"p","type":"quantitative","axis":null,"scale":{"domain":[0.5497,4.2357],"range":[563,138]}}}},
{"data":{"name":"lasttext"},"mark":{"type":"text","font":"Roboto","fontSize":15.5,"align":"center","baseline":"middle"},"encoding":{"text":{"field":"s"},"color":{"value":"#ffffff"},"y":{"field":"p","type":"quantitative","axis":null,"scale":{"domain":[0.5497,4.2357],"range":[563,138]}}}},
{"data":{"name":"rsitags"},"mark":{"type":"text","font":"Roboto","fontSize":15.5,"align":"center","baseline":"middle"},"encoding":{"text":{"field":"s"},"color":{"condition":{"test":"datum.k==='rsima'","value":"#000000"},"value":"#ffffff"},"y":{"field":"r","type":"quantitative","axis":null,"scale":{"domain":[19.97,97.38],"range":[712,563]}}}},
{"data":{"name":"voltag"},"mark":{"type":"text","font":"Roboto","fontSize":15.5,"align":"center","baseline":"middle"},"encoding":{"text":{"field":"s"},"color":{"value":"#ffffff"},"y":{"field":"v","type":"quantitative","axis":null,"scale":{"domain":[0,722],"range":[786,712]}}}}
]}
